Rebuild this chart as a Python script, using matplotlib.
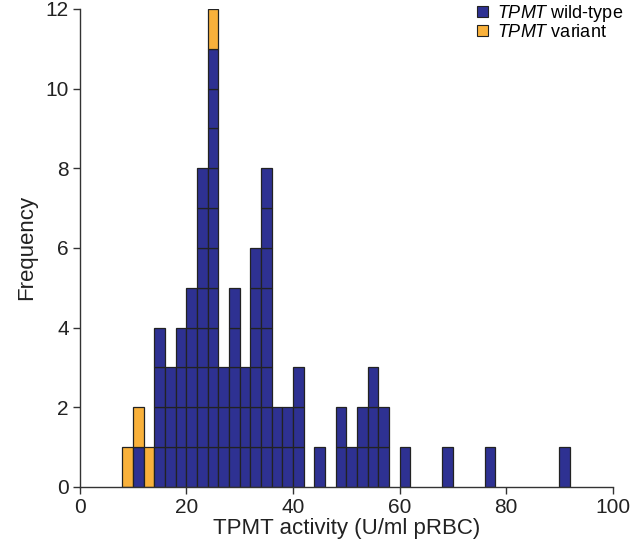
import numpy as np
import matplotlib
matplotlib.use("Agg")
import matplotlib.pyplot as plt
from matplotlib.patches import Patch

plt.rcParams['font.family'] = ['Liberation Sans', 'DejaVu Sans']
plt.rcParams['mathtext.fontset'] = 'custom'
plt.rcParams['mathtext.rm'] = 'Liberation Sans'
plt.rcParams['mathtext.it'] = 'Liberation Sans:italic'

# histogram bins (left edges, width 2 U/ml)
bin_left = np.arange(8, 92, 2)
wild_type = [0, 1, 0, 4, 3, 4, 5, 8, 11, 3, 5, 3, 6, 8, 2, 2, 3, 0, 1, 0, 2, 1,
             2, 3, 2, 0, 1, 0, 0, 0, 1, 0, 0, 0, 1, 0, 0, 0, 0, 0, 0, 1]
variant = [1, 1, 1, 0, 0, 0, 0, 0, 1, 0, 0, 0, 0, 0, 0, 0, 0, 0, 0, 0, 0, 0,
           0, 0, 0, 0, 0, 0, 0, 0, 0, 0, 0, 0, 0, 0, 0, 0, 0, 0, 0, 0]

blue = '#2e3192'
orange = '#f9b13b'
width = 2

fig = plt.figure(figsize=(6.33, 5.57), dpi=100)
ax = fig.add_axes([0.126, 0.126, 0.842, 0.858])

# every sample is drawn as its own unit block, wild-type first then variant
for x, w, v in zip(bin_left, wild_type, variant):
    for k in range(w):
        ax.bar(x, 1, width, bottom=k, align='edge', color=blue,
               edgecolor='#222222', linewidth=0.9)
    for k in range(v):
        ax.bar(x, 1, width, bottom=w + k, align='edge', color=orange,
               edgecolor='#222222', linewidth=0.9)

ax.set_xlim(0, 100)
ax.set_ylim(0, 12)
ax.set_xticks(np.arange(0, 101, 20))
ax.set_yticks(np.arange(0, 13, 2))
ax.spines['top'].set_visible(False)
ax.spines['right'].set_visible(False)
for s in ['left', 'bottom']:
    ax.spines[s].set_color('#333333')
    ax.spines[s].set_linewidth(1.0)
ax.tick_params(direction='out', length=5, width=1.0, colors='#333333',
               labelsize=15, labelcolor='#222222', pad=3)
ax.set_xlabel('TPMT activity (U/ml pRBC)', fontsize=16, color='#222222', labelpad=1)
ax.set_ylabel('Frequency', fontsize=16, color='#222222', labelpad=6)

handles = [Patch(facecolor=blue, edgecolor='#222222', linewidth=0.8),
           Patch(facecolor=orange, edgecolor='#222222', linewidth=0.8)]
labels = [r'$\it{TPMT}$ wild-type', r'$\it{TPMT}$ variant']
ax.legend(handles, labels, loc='upper right', bbox_to_anchor=(1.04, 1.035),
          frameon=False, fontsize=13, handlelength=0.6, handleheight=0.6,
          handletextpad=0.5, labelspacing=0.0, borderaxespad=0.2)

fig.savefig('out.png', dpi=100)
